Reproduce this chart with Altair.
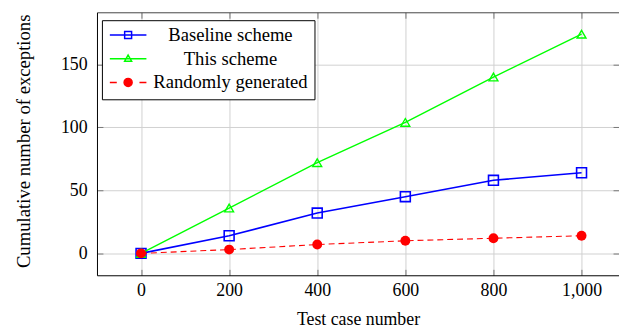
import altair as alt
import pandas as pd

# ---- data ----
x_values = [0, 200, 400, 600, 800, 1000]
baseline_values = [0, 14, 32, 45, 58, 64]
this_scheme_values = [0, 36, 72, 104, 140, 174]
random_values = [0, 3, 7, 10, 12, 14]
series_names = ["Baseline scheme", "This scheme", "Randomly generated"]
x_ticks = [0, 200, 400, 600, 800, 1000]
y_ticks = [0, 50, 100, 150]

rows = []
for name, vals in zip(series_names, [baseline_values, this_scheme_values, random_values]):
    for xv, yv in zip(x_values, vals):
        rows.append({"series": name, "x": xv, "y": yv})
df = pd.DataFrame(rows)

FONT = "Liberation Serif"
BLUE, GREEN, RED = "#0000ff", "#00ff00", "#ff0000"

x_scale = alt.Scale(domain=[-100, 1085], nice=False, zero=False)
y_scale = alt.Scale(domain=[-17.4, 191.4], nice=False, zero=False)
inner_tick = {"expr": "-6"}

X = alt.X("x:Q", scale=x_scale, title="Test case number",
          axis=alt.Axis(orient="bottom", values=x_ticks, format=",d", grid=True,
                        gridColor="#d0d0d0", gridWidth=1,
                        domainColor="black", domainWidth=1,
                        ticks=True, tickSize=inner_tick, tickColor="#777777", tickWidth=1,
                        labelFont=FONT, labelFontSize=18, labelColor="black", labelPadding=12.5,
                        titleFont=FONT, titleFontSize=18, titleFontWeight="normal",
                        titleColor="black", titleBaseline="alphabetic", titleY=50))
Y = alt.Y("y:Q", scale=y_scale, title="Cumulative number of exceptions",
          axis=alt.Axis(orient="left", values=y_ticks, format="d", grid=True,
                        gridColor="#d0d0d0", gridWidth=1,
                        domainColor="black", domainWidth=1,
                        ticks=True, tickSize=inner_tick, tickColor="#777777", tickWidth=1,
                        labelFont=FONT, labelFontSize=18, labelColor="black", labelPadding=16,
                        titleFont=FONT, titleFontSize=18.9, titleFontWeight="normal",
                        titleColor="black", titleBaseline="alphabetic", titleX=-68, titleY=130))


def series_layers(name, color, shape, filled, width, size, dash=None):
    base = alt.Chart(df).transform_filter(alt.datum.series == name)
    line_kw = dict(color=color, strokeWidth=width)
    if dash:
        line_kw["strokeDash"] = dash
    line = base.mark_line(**line_kw).encode(x=X, y=Y)
    if filled:
        pts = base.mark_point(shape=shape, filled=True, color=color, size=size,
                              opacity=1, strokeWidth=0).encode(x=X, y=Y)
    else:
        pts = base.mark_point(shape=shape, filled=False, color=color, size=size,
                              opacity=1, strokeWidth=width).encode(x=X, y=Y)
    return [line, pts]


layers = []
layers += series_layers("Baseline scheme", BLUE, "square", False, 1.6, 100)
layers += series_layers("This scheme", GREEN, "triangle-up", False, 1.4, 81)
layers += series_layers("Randomly generated", RED, "circle", True, 1.1, 100, dash=[6, 4])
main = alt.layer(*layers)

# legend symbols: line with marker (unit coordinates)
legend_paths = [
    "M-1,0L1,0M-0.19,-0.19L0.19,-0.19L0.19,0.19L-0.19,0.19Z",
    "M-1,0L1,0M0,-0.2L0.19,0.13L-0.19,0.13Z",
    "M-1,0L-0.62,0M0.62,0L1,0M0.22,0A0.22,0.22,0,1,1,-0.22,0A0.22,0.22,0,1,1,0.22,0Z",
]
legend_strokes = [BLUE, GREEN, RED]
legend_fills = ["transparent", "transparent", RED]

leg = alt.Chart(df).transform_filter("false").mark_point(filled=True, opacity=1).encode(
    x=alt.X("x:Q", scale=x_scale,
            axis=alt.Axis(orient="top", labels=False, grid=False, title=None, values=x_ticks,
                          domainColor="#444444", domainWidth=1,
                          ticks=True, tickSize=inner_tick, tickColor="#777777")),
    y=alt.Y("y:Q", scale=y_scale,
            axis=alt.Axis(orient="right", labels=False, grid=False, title=None, values=y_ticks,
                          domain=False, ticks=True, tickSize=inner_tick, tickColor="#777777")),
    shape=alt.Shape("series:N", scale=alt.Scale(domain=series_names, range=legend_paths),
                    legend=alt.Legend(title=None)),
    stroke=alt.Stroke("series:N", scale=alt.Scale(domain=series_names, range=legend_strokes),
                      legend=alt.Legend(title=None)),
    fill=alt.Fill("series:N", scale=alt.Scale(domain=series_names, range=legend_fills),
                  legend=alt.Legend(title=None)),
)

chart = alt.layer(main, leg).resolve_axis(x="independent", y="independent").properties(
    width=528, height=266,
    autosize=alt.AutoSizeParams(type="none"),
    padding={"left": 90, "top": 2.5, "right": 0, "bottom": 52.5},
).configure(font=FONT).configure_axis(
    labelFont=FONT, titleFont=FONT,
).configure_view(stroke="transparent").configure_legend(
    orient="none", legendX=5, legendY=8, padding=7,
    strokeColor="black", fillColor="white", cornerRadius=0,
    labelFont=FONT, labelFontSize=18.8, labelColor="black", labelAlign="center",
    labelOffset=84, labelLimit=400, symbolSize=1369, symbolStrokeWidth=1.5,
    clipHeight=16, rowPadding=5,
)

chart.save("out.html", embed_options={"renderer": "svg", "actions": False})
